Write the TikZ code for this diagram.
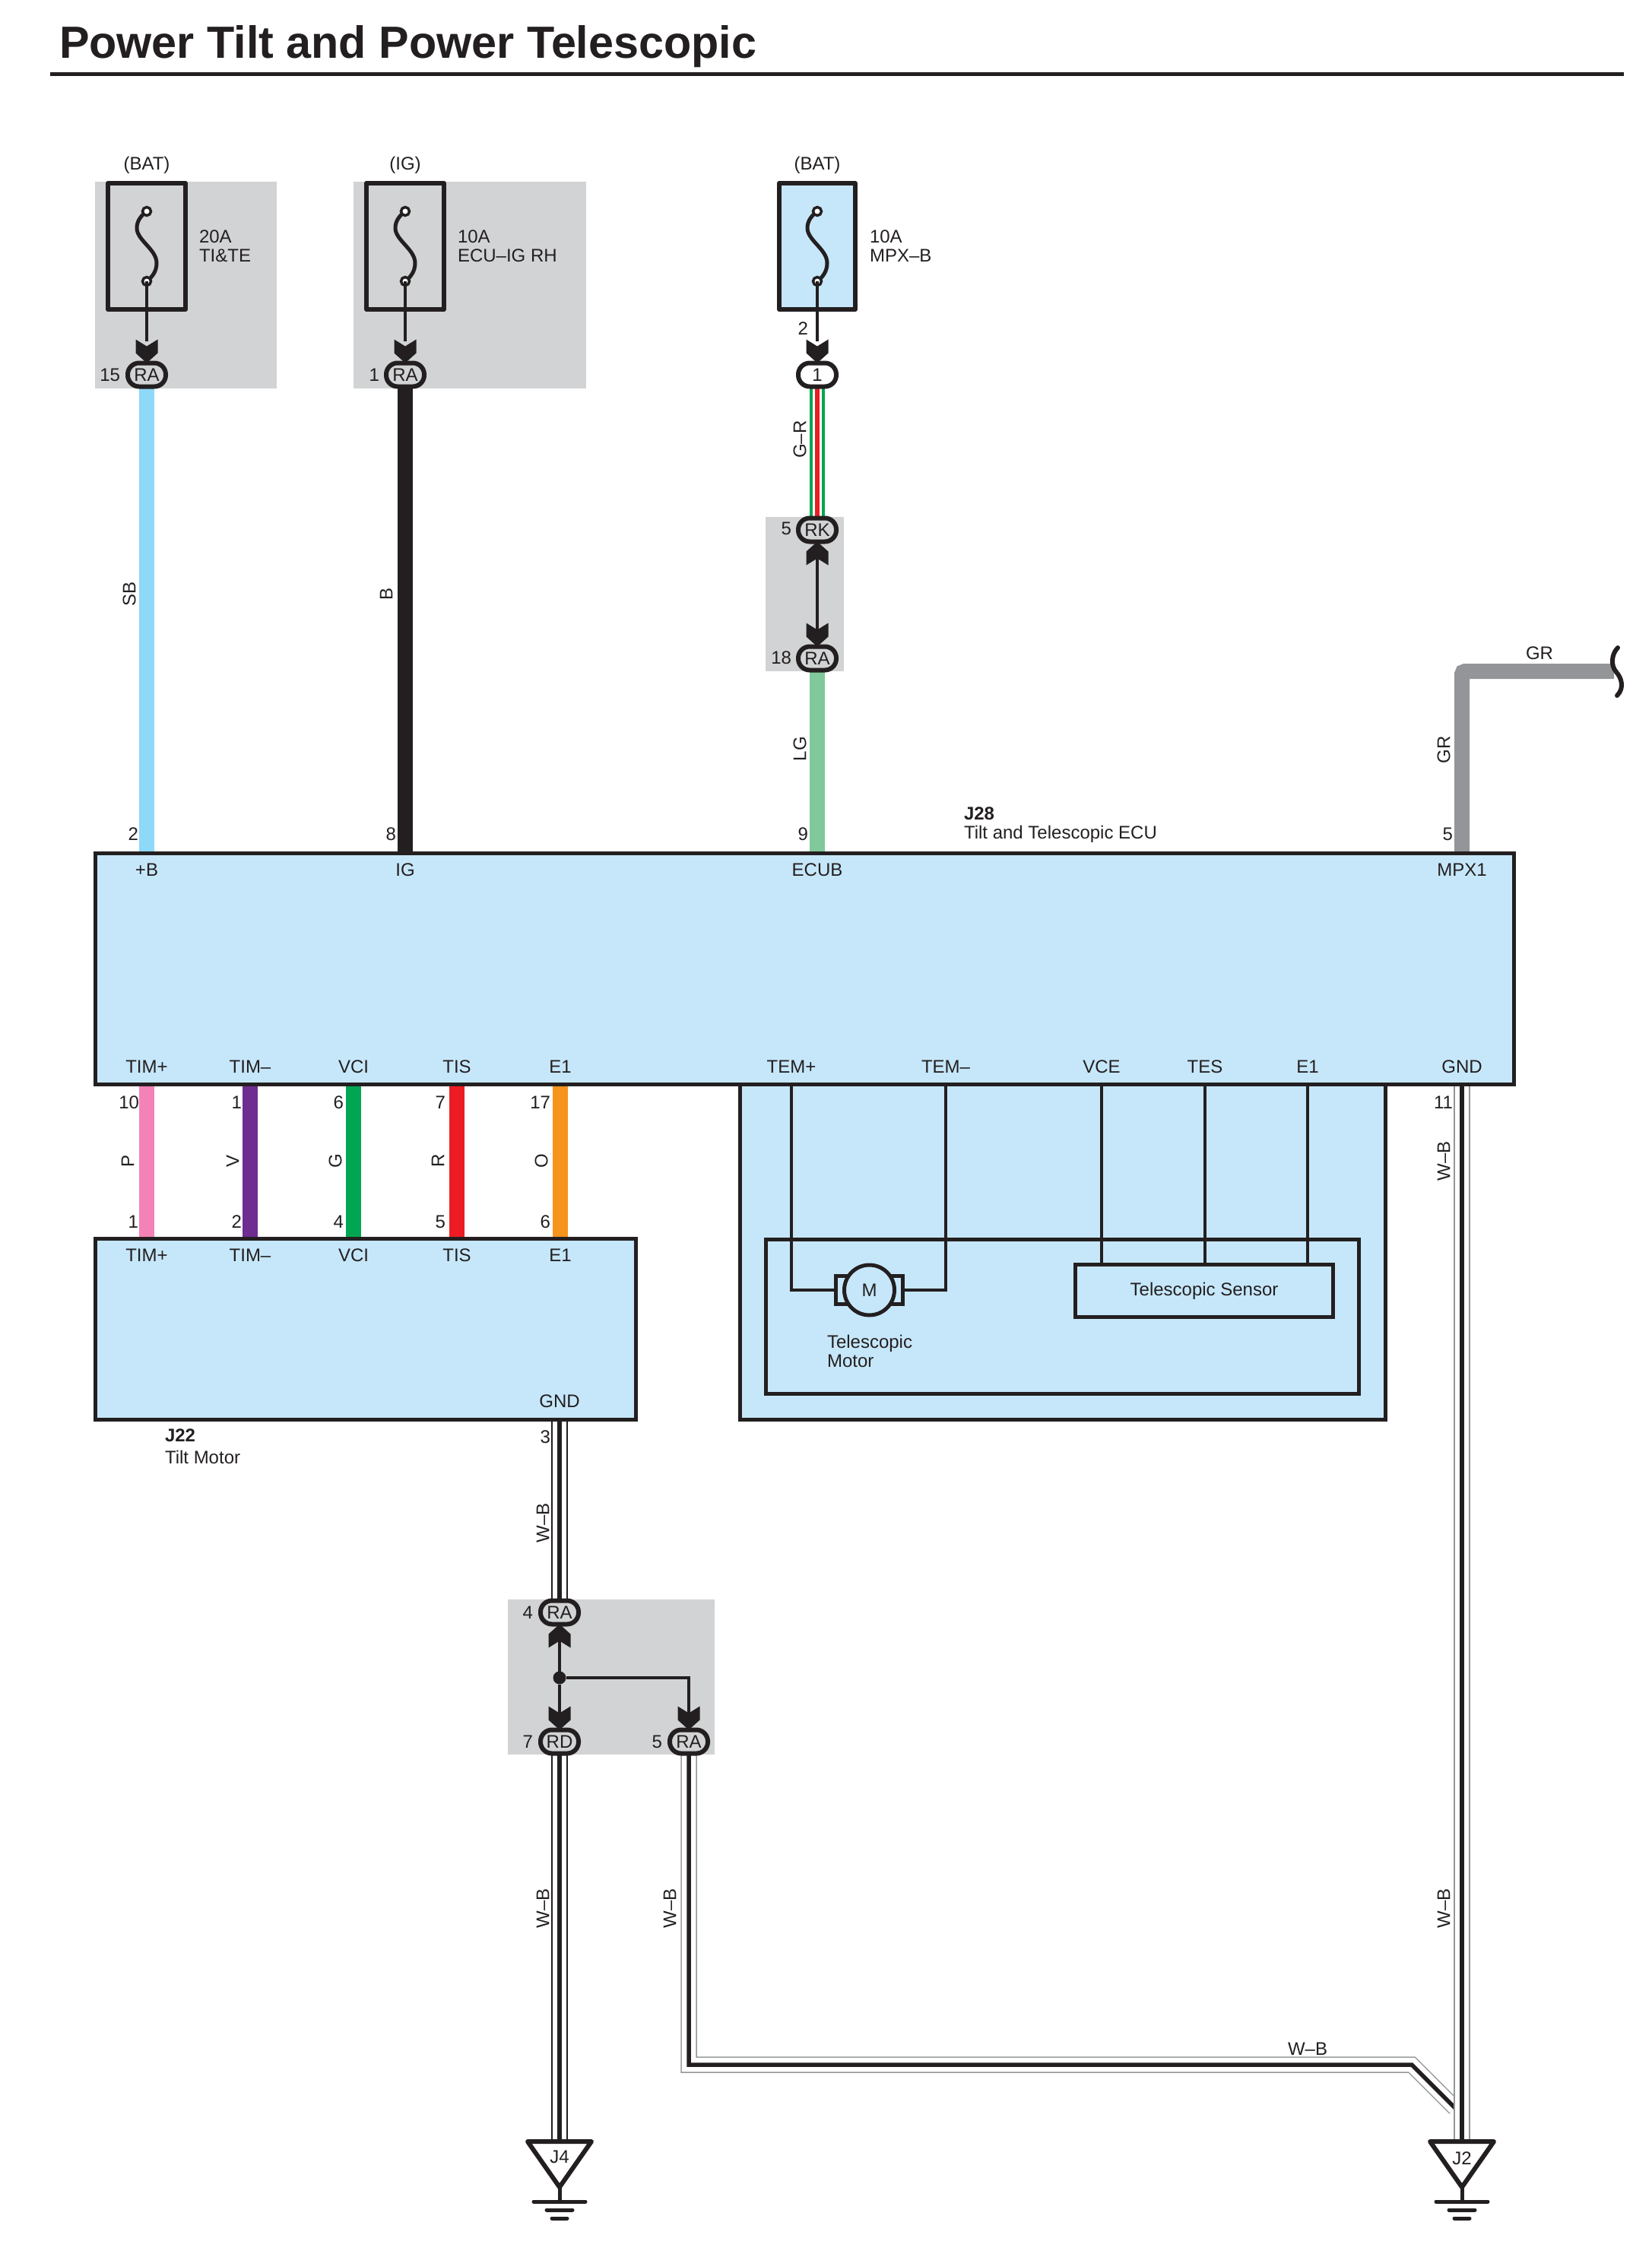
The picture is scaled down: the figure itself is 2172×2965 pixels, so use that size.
\documentclass[tikz,border=0pt]{standalone}
\usepackage{fontspec}
\setmainfont{Liberation Sans}
\definecolor{panel}{HTML}{C6E7FA}
\definecolor{greyarea}{HTML}{D1D3D4}
\definecolor{ink}{HTML}{231F20}
\definecolor{wSB}{HTML}{8ED8F8}
\definecolor{wLG}{HTML}{7FC99B}
\definecolor{wGR}{HTML}{939598}
\definecolor{wP}{HTML}{F582B6}
\definecolor{wV}{HTML}{6F2C91}
\definecolor{wG}{HTML}{00A651}
\definecolor{wR}{HTML}{ED1C24}
\definecolor{wO}{HTML}{F7941D}
\pgfdeclarelayer{greylayer}
\pgfdeclarelayer{wirelayer}
\pgfsetlayers{greylayer,wirelayer,main}
\newcommand{\chevdown}[1]{\fill[ink,shift={(#1)}] (0,0) -- (14.5,-13) -- (14.5,-31) -- (0,-22) -- (-14.5,-31) -- (-14.5,-13) -- cycle;}
\newcommand{\chevup}[1]{\fill[ink,shift={(#1)}] (0,0) -- (14.5,13) -- (14.5,31) -- (0,22) -- (-14.5,31) -- (-14.5,13) -- cycle;}
\newcommand{\fusecurve}[1]{%
 \draw[ink,line width=5,shift={(#1)}] (0,-46) .. controls (-8,-40) and (-13,-33) .. (-13,-24) .. controls (-13,-8) and (13,4) .. (13,22) .. controls (13,32) and (8,40) .. (0,46);
 \draw[ink,line width=3.5,fill=white,shift={(#1)}] (0,-46) circle (5.5);
 \draw[ink,line width=3.5,fill=white,shift={(#1)}] (0,46) circle (5.5);}
\tikzset{
 x=1pt,y=-1pt,
 every node/.style={font=\fontsize{24}{26}\selectfont,text=ink,inner sep=0pt,outer sep=0pt},
 lab/.style={anchor=center},
 leftlab/.style={anchor=west,align=left,font=\fontsize{24}{25}\selectfont},
 rotlab/.style={rotate=90,anchor=center},
 numlab/.style={anchor=east},
 fusebox/.style={draw=ink,line width=6,minimum width=#1,minimum height=166,line join=round},
 conn/.style={draw=ink,line width=6,rounded corners=15,minimum width=50,minimum height=31,fill=#1},
 conn/.default=greyarea,
 unitbox/.style={draw=ink,line width=5,fill=panel},
 colwire/.style={line width=20,draw=#1},
 thinwire/.style={ink,line width=3.5},
 bondcase/.style={draw=#1,line width=21.5},
 bondfill/.style={white,line width=18.5},
 bondcore/.style={ink,line width=5.5},
 tri/.style={draw=ink,line width=6,line join=round,fill=white},
 earth/.style={ink,line width=5,line cap=round}
}
\begin{document}
\begin{tikzpicture}
\useasboundingbox (0,0) rectangle (2172,2965);
% title
\node[anchor=base west,font=\fontsize{59.3}{60}\bfseries\selectfont] (title) at (78,77) {Power Tilt and Power Telescopic};
\coordinate (ruleL) at (66,98); \coordinate (ruleR) at (2136,98);
\draw[ink,line width=5] (ruleL) -- (ruleR);

% fuses
\node[fusebox=102,fill=none] (f1) at (193,324) {};
\node[fusebox=102,fill=none] (f2) at (533,324) {};
\node[fusebox=100,fill=panel] (f3) at (1075,324) {};
\fusecurve{f1.center}\fusecurve{f2.center}\fusecurve{f3.center}
\node[lab] (bat1) at (193,217) {(BAT)};
\node[lab] (ig0) at (533,217) {(IG)};
\node[lab] (bat2) at (1075,217) {(BAT)};
\node[leftlab] (fl1) at (262,324) {20A\\TI\&TE};
\node[leftlab] (fl2) at (602,324) {10A\\ECU–IG RH};
\node[leftlab] (fl3) at (1144,324) {10A\\MPX–B};

% connectors
\node[conn] (ra15) at (193,493) {RA};
\node[conn] (ra1) at (533,493) {RA};
\node[conn=white] (c1) at (1075,493) {1};
\node[conn] (rk5) at (1075,697) {RK};
\node[conn] (ra18) at (1075,866) {RA};
\node[conn] (ra4) at (736,2121) {RA};
\node[conn] (rd7) at (736,2291) {RD};
\node[conn] (ra5) at (906,2291) {RA};
\node[numlab] at (158,493) {15};
\node[numlab] at (499,493) {1};
\node[numlab] at (1041,695) {5};
\node[numlab] at (1041,865) {18};
\node[numlab] at (1063,432) {2};
\node[numlab] at (701,2121) {4};
\node[numlab] at (701,2291) {7};
\node[numlab] at (871,2291) {5};

% shaded groups
\begin{pgfonlayer}{greylayer}
\fill[greyarea] (125,239) rectangle (364,511);
\fill[greyarea] (465,239) rectangle (771,511);
\fill[greyarea] (1007,680) rectangle (1110,883);
\fill[greyarea] (668,2104) rectangle (940,2308);
\end{pgfonlayer}

% ECU and other units
\node[unitbox,anchor=north west,minimum width=1866,minimum height=304] (ecu) at (125.5,1122) {};
\node[unitbox,anchor=north west,minimum width=711,minimum height=238] (tilt) at (125.5,1629) {};
\begin{pgfonlayer}{wirelayer}
\node[unitbox,anchor=north west,minimum width=849,minimum height=441] (outer) at (973,1426) {};
\end{pgfonlayer}
\node[draw=ink,line width=5,fill=panel,anchor=north west,minimum width=780,minimum height=203] (inner) at (1007,1630) {};
\node[draw=ink,line width=5,fill=panel,minimum width=339,minimum height=69] (sensor) at (1584,1698) {Telescopic Sensor};

% ECU pins
\foreach \n/\x/\t in {pB/193/+B,pIG/533/IG,pECUB/1075/ECUB,pMPX/1923/MPX1}
  \node (\n) at (\x,1144) {\t};
\foreach \n/\x/\t in {pTp/193/TIM+,pTm/329/TIM–,pVCI/465/VCI,pTIS/601/TIS,pE/737/E1,pEp/1041/TEM+,pEm/1244/TEM–,pVCE/1449/VCE,pTES/1585/TES,pE2/1720/E1,pGND/1923/GND}
  \node (\n) at (\x,1403) {\t};
\foreach \n/\x/\t in {qTp/193/TIM+,qTm/329/TIM–,qVCI/465/VCI,qTIS/601/TIS,qE/737/E1}
  \node (\n) at (\x,1651) {\t};
\node (qGND) at (736,1843) {GND};
\node[anchor=west,font=\fontsize{24}{26}\bfseries\selectfont] (j28) at (1268,1070) {J28};
\node[anchor=west] (j28t) at (1268,1097) {Tilt and Telescopic ECU};
\node[anchor=west,font=\fontsize{24}{26}\bfseries\selectfont] (j22) at (217,1888) {J22};
\node[anchor=west] (j22t) at (217,1917) {Tilt Motor};

% coloured wires
\coordinate (eB) at (pB |- ecu.north);
\coordinate (eIG) at (pIG |- ecu.north);
\coordinate (eEC) at (pECUB |- ecu.north);
\coordinate (eMP) at (pMPX |- ecu.north);
\coordinate (bend) at (1923,883);
\coordinate (brk) at (2123,883);
\begin{pgfonlayer}{wirelayer}
\draw[colwire=wSB] (ra15) -- (eB);
\draw[colwire=ink] (ra1) -- (eIG);
\draw[colwire=wLG] (ra18) -- (eEC);
\draw[colwire=wG] (c1) -- (rk5);
\draw[white,line width=12] (c1) -- (rk5);
\draw[wR,line width=6] (c1) -- (rk5);
\draw[colwire=wGR,rounded corners=4] (eMP) -- (bend) -- (brk);
\foreach \a/\c in {pTp/wP,pTm/wV,pVCI/wG,pTIS/wR,pE/wO}
  \draw[colwire=\c] (\a |- ecu.south) -- (\a |- tilt.north);
\end{pgfonlayer}
\coordinate (sqA) at (2128,852);
\coordinate (sqB) at (2127,915);
\draw[ink,line width=6,line cap=round] (sqA) .. controls (2120,860) and (2118,875) .. (2126,884) .. controls (2133,892) and (2137,905) .. (sqB);

% thin links
\draw[thinwire,shift={(f1.center)}] (0,46) -- (0,125);
\draw[thinwire,shift={(f2.center)}] (0,46) -- (0,125);
\draw[thinwire,shift={(f3.center)}] (0,46) -- (0,125);
\draw[thinwire] (rk5) -- (ra18);
\chevdown{ra15.north}\chevdown{ra1.north}\chevdown{c1.north}
\chevup{rk5.south}\chevdown{ra18.north}
\node[circle,fill=ink,minimum size=17] (jn) at (736,2207) {};
\coordinate (jc) at (906,2207);
\draw[thinwire] (ra4) -- (jn);
\draw[thinwire] (jn) -- (rd7);
\draw[thinwire] (jn) -- (jc) -- (ra5.north);
\chevup{ra4.south}\chevdown{rd7.north}\chevdown{ra5.north}

% internal wires
\foreach \a in {pEp,pEm,pVCE,pTES,pE2} \coordinate (s\a) at (\a |- outer.north);
\node[draw=ink,line width=5,fill=panel,minimum width=88,minimum height=37] (brush) at (1143.5,1697) {};
\node[circle,draw=ink,line width=5,fill=panel,minimum size=66] (motor) at (1143.5,1697) {M};
\draw[thinwire] (spEp) |- (brush.west);
\draw[thinwire] (spEm) |- (brush.east);
\draw[thinwire] (spVCE) -- (spVCE |- sensor.north);
\draw[thinwire] (spTES) -- (spTES |- sensor.north);
\draw[thinwire] (spE2) -- (spE2 |- sensor.north);
\node[leftlab] (mlab) at (1088,1777) {Telescopic\\Motor};

% grounds
\foreach \g/\x in {g4/736,g2/1923} {
  \coordinate (\g t) at (\x,2817);
  \draw[tri] (\x-42,2817) -- (\x+42,2817) -- (\x,2877) -- cycle;
  \draw[ink,line width=5] (\x,2877) -- (\x,2896);
  \draw[earth] (\x-34,2896) -- (\x+34,2896);
  \draw[earth] (\x-17,2907) -- (\x+17,2907);
  \draw[earth] (\x-10,2918) -- (\x+10,2918);
}
\node (j4) at (736,2837) {J4};
\node (j2) at (1923,2839) {J2};

% white-black wires
\coordinate (kneeA) at (906,2716);
\coordinate (kneeB) at (1857,2716);
\coordinate (kneeC) at (1914,2773);
\begin{pgfonlayer}{wirelayer}
\draw[bondcase=wGR] (ra5) -- (kneeA) -- (kneeB) -- (kneeC);
\draw[bondfill] (ra5) -- (kneeA) -- (kneeB) -- (kneeC);
\draw[bondcore] (ra5) -- (kneeA) -- (kneeB) -- (kneeC);
\draw[bondcase=ink] (qGND |- tilt.south) -- (ra4);
\draw[bondfill] (qGND |- tilt.south) -- (ra4);
\draw[bondcore,line width=6] (qGND |- tilt.south) -- (ra4);
\draw[bondcase=ink] (rd7) -- (g4t);
\draw[bondfill] (rd7) -- (g4t);
\draw[bondcore,line width=6] (rd7) -- (g4t);
\draw[bondcase=wGR] (pGND |- ecu.south) -- (g2t);
\draw[bondfill] (pGND |- ecu.south) -- (g2t);
\draw[bondcore] (pGND |- ecu.south) -- (g2t);
\end{pgfonlayer}

% wire labels
\node[rotlab] at (170,781) {SB};
\node[rotlab] at (508,781) {B};
\node[rotlab] at (1052,578) {G–R};
\node[rotlab] at (1052,985) {LG};
\node[rotlab] at (1899,986) {GR};
\node[lab] at (2025,859) {GR};
\node[rotlab] at (168,1527) {P};
\node[rotlab] at (306,1527) {V};
\node[rotlab] at (441,1527) {G};
\node[rotlab] at (576,1527) {R};
\node[rotlab] at (712,1527) {O};
\node[rotlab] at (1899,1527) {W–B};
\node[rotlab] at (714,2003) {W–B};
\node[rotlab] at (714,2510) {W–B};
\node[rotlab] at (881,2510) {W–B};
\node[rotlab] at (1899,2510) {W–B};
\node[lab] at (1720,2695) {W–B};

% pin numbers
\foreach \x/\y/\t in {182/1097/2,521/1097/8,1063/1097/9,1911/1097/5,
  183/1450/10,318/1450/1,452/1450/6,586/1450/7,724/1450/17,
  182/1607/1,318/1607/2,452/1607/4,586/1607/5,724/1607/6,
  724/1890/3,1911/1450/11}
  \node[numlab] at (\x,\y) {\t};
\end{tikzpicture}
\end{document}
